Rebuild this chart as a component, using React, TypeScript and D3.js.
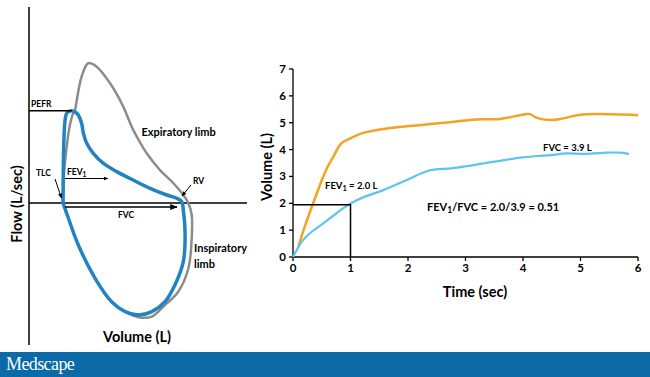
import React from "react";
import * as d3 from "d3";

// Flow-volume loop (volume L from TLC, flow L/s)
const normalVol = [0, 0.03, 0.13, 0.23, 0.34, 0.4, 0.46, 0.62, 0.84, 1.12, 1.57, 2.01, 2.29, 2.46, 2.79, 3.23, 3.68, 4.01, 4.18, 4.29, 4.29, 4.18, 3.84, 3.4, 2.96, 2.62, 2.29];
const normalFlow = [0, 2.0, 4.14, 5.57, 6.41, 6.64, 7.36, 9.02, 9.98, 9.74, 8.55, 6.88, 5.45, 4.74, 3.55, 2.36, 1.41, 0.57, -0.02, -0.86, -2.52, -4.66, -6.34, -7.29, -8.12, -8.19, -8.0];
const obstrVol = [0, 0.01, 0.03, 0.07, 0.13, 0.29, 0.43, 0.51, 0.62, 0.68, 0.79, 1.01, 1.34, 1.79, 2.34, 2.9, 3.46, 3.79, 3.96, 4.01, 4.07, 4.01, 3.73, 3.4, 2.96, 2.51, 2.07, 1.62, 1.07, 0.51, 0.18, 0];
const obstrFlow = [0, 2.36, 4.5, 5.93, 6.43, 6.59, 6.46, 6.29, 5.69, 4.98, 4.26, 3.55, 2.84, 2.24, 1.64, 1.05, 0.57, 0.34, 0.09, -0.5, -2.29, -4.19, -5.86, -7.05, -7.76, -8.0, -7.76, -7.05, -5.38, -3.0, -1.09, 0];

// Spirogram (time sec, volume L)
const normalTime = [0.09, 0.2, 0.35, 0.5, 0.6, 0.7, 0.84, 0.99, 1.22, 1.68, 2.15, 2.73, 3.19, 3.6, 4.0, 4.12, 4.24, 4.47, 4.65, 5.0, 5.34, 6.0];
const normalVolume = [0.37, 1.1, 2.0, 2.85, 3.35, 3.73, 4.23, 4.41, 4.62, 4.8, 4.9, 5.02, 5.12, 5.14, 5.3, 5.32, 5.18, 5.1, 5.14, 5.3, 5.32, 5.28];
const obstrTime = [0, 0.17, 0.32, 0.52, 0.75, 1.0, 1.22, 1.57, 1.97, 2.38, 2.75, 3.02, 3.48, 4.0, 4.47, 4.76, 5.05, 5.4, 5.75, 5.84];
const obstrVolume = [0, 0.62, 0.93, 1.24, 1.62, 1.99, 2.22, 2.49, 2.86, 3.23, 3.3, 3.38, 3.54, 3.71, 3.79, 3.86, 3.84, 3.88, 3.88, 3.83];

const xTicks = [0, 1, 2, 3, 4, 5, 6];
const yTicks = [0, 1, 2, 3, 4, 5, 6, 7];
const fev1 = 1.95;

const ORANGE = "#F4A223";
const LIGHTBLUE = "#5CC5EE";
const DARKBLUE = "#2283C3";
const GRAY = "#8C8C8C";
const FONT = "Lato, 'Open Sans', sans-serif";

export default function App() {
  // left panel scales
  const xL = d3.scaleLinear().domain([0, 1]).range([63, 93]);
  const yL = d3.scaleLinear().domain([0, 1]).range([203, 189]);
  const loop = (v: number[], f: number[]) =>
    d3.line<number>().x((_, i) => xL(v[i])).y((_, i) => yL(f[i])).curve(d3.curveCatmullRom.alpha(0.5))(v as any) as string;

  // right panel scales
  const x = d3.scaleLinear().domain([0, 6]).range([293, 638]);
  const y = d3.scaleLinear().domain([0, 7]).range([257, 69]);
  const spiro = (t: number[], v: number[]) =>
    d3.line<number>().x((_, i) => x(t[i])).y((_, i) => y(v[i])).curve(d3.curveCatmullRom.alpha(0.5))(t as any) as string;

  const peakIdx = obstrFlow.indexOf(d3.max(obstrFlow) as number);
  const axisY = yL(0);

  return (
    <svg width={650} height={377} style={{ position: "absolute", left: 0, top: 0, background: "#fff" }} fontFamily={FONT}>
      <defs>
        <marker id="arr" viewBox="0 0 10 10" refX="9" refY="5" markerWidth="5" markerHeight="5" orient="auto">
          <path d="M0,1 L10,5 L0,9 z" fill="#000" />
        </marker>
      </defs>
      <rect x={0} y={0} width={650} height={377} fill="#fff" />

      {/* Left: flow-volume loop */}
      <line x1={29} y1={7} x2={29} y2={345} stroke="#000" strokeWidth={1.5} />
      <line x1={29} y1={axisY} x2={247} y2={axisY} stroke="#000" strokeWidth={1.5} />
      <path d={loop(normalVol, normalFlow)} fill="none" stroke={GRAY} strokeWidth={2.5} />
      <path d={loop(obstrVol, obstrFlow)} fill="none" stroke={DARKBLUE} strokeWidth={3.5} />
      <line x1={29} y1={yL(obstrFlow[peakIdx])} x2={xL(obstrVol[peakIdx])} y2={yL(obstrFlow[peakIdx])} stroke="#000" strokeWidth={1.5} />
      <text x={31} y={107} fontSize={8.5} fontWeight="bold">PEFR</text>
      <text x={36} y={176} fontSize={8.5} fontWeight="bold">TLC</text>
      <line x1={55} y1={179} x2={61.5} y2={198} stroke="#000" strokeWidth={1} markerEnd="url(#arr)" />
      <text x={67} y={175} fontSize={8.5} fontWeight="bold">FEV<tspan fontSize={6.5} dy={2}>1</tspan></text>
      <line x1={65} y1={178.5} x2={108} y2={178.5} stroke="#000" strokeWidth={1} markerEnd="url(#arr)" />
      <line x1={65} y1={207} x2={177} y2={207} stroke="#000" strokeWidth={1.5} markerEnd="url(#arr)" />
      <text x={126} y={218} fontSize={8.5} fontWeight="bold" textAnchor="middle">FVC</text>
      <text x={193} y={184} fontSize={8.5} fontWeight="bold">RV</text>
      <line x1={191} y1={185} x2={182} y2={196} stroke="#000" strokeWidth={1} markerEnd="url(#arr)" />
      <text x={141.5} y={136} fontSize={11} fontWeight="bold">Expiratory limb</text>
      <text x={194} y={252} fontSize={11} fontWeight="bold">Inspiratory</text>
      <text x={194} y={268} fontSize={11} fontWeight="bold">limb</text>
      <text transform="translate(22,204) rotate(-90)" fontSize={14.5} fontWeight="bold" textAnchor="middle">Flow (L/sec)</text>
      <text x={137} y={342} fontSize={14.5} fontWeight="bold" textAnchor="middle">Volume (L)</text>

      {/* Right: spirogram */}
      <line x1={x(0)} y1={y(0)} x2={x(0)} y2={y(7)} stroke="#000" strokeWidth={1.3} />
      <line x1={x(0)} y1={y(0)} x2={x(6)} y2={y(0)} stroke="#000" strokeWidth={1.3} />
      {yTicks.map((t) => (
        <g key={"y" + t}>
          <line x1={x(0) - 4} x2={x(0)} y1={y(t)} y2={y(t)} stroke="#000" strokeWidth={1.3} />
          <text x={x(0) - 7} y={y(t) + 4} fontSize={11.5} fontWeight="bold" textAnchor="end">{t}</text>
        </g>
      ))}
      {xTicks.map((t) => (
        <g key={"x" + t}>
          <line x1={x(t)} x2={x(t)} y1={y(0)} y2={y(0) + 4} stroke="#000" strokeWidth={1.3} />
          <text x={x(t)} y={y(0) + 15} fontSize={11.5} fontWeight="bold" textAnchor="middle">{t}</text>
        </g>
      ))}
      <text transform="translate(272,167) rotate(-90)" fontSize={14.5} fontWeight="bold" textAnchor="middle">Volume (L)</text>
      <text x={475} y={297} fontSize={14.5} fontWeight="bold" textAnchor="middle">Time (sec)</text>
      <path d={spiro(normalTime, normalVolume)} fill="none" stroke={ORANGE} strokeWidth={2.5} />
      <path d={spiro(obstrTime, obstrVolume)} fill="none" stroke={LIGHTBLUE} strokeWidth={2.2} />
      <polyline points={`${x(0)},${y(fev1)} ${x(1)},${y(fev1)} ${x(1)},${y(0)}`} fill="none" stroke="#000" strokeWidth={1.5} />
      <text x={325} y={189} fontSize={9.5} fontWeight="bold">FEV<tspan fontSize={7.5} dy={2}>1</tspan><tspan dy={-2}> = 2.0 L</tspan></text>
      <text x={543} y={151} fontSize={9.5} fontWeight="bold">FVC = 3.9 L</text>
      <text x={427} y={211} fontSize={11} fontWeight="bold">FEV<tspan fontSize={8.5} dy={2}>1</tspan><tspan dy={-2}>/FVC = 2.0/3.9 = 0.51</tspan></text>

      {/* Footer */}
      <rect x={0} y={352} width={650} height={25} fill="#0C6BA6" />
      <text x={6} y={370} fontSize={18} fill="#fff" fontFamily="'Liberation Serif', 'DejaVu Serif', serif" letterSpacing={-0.6}>Medscape</text>
    </svg>
  );
}
